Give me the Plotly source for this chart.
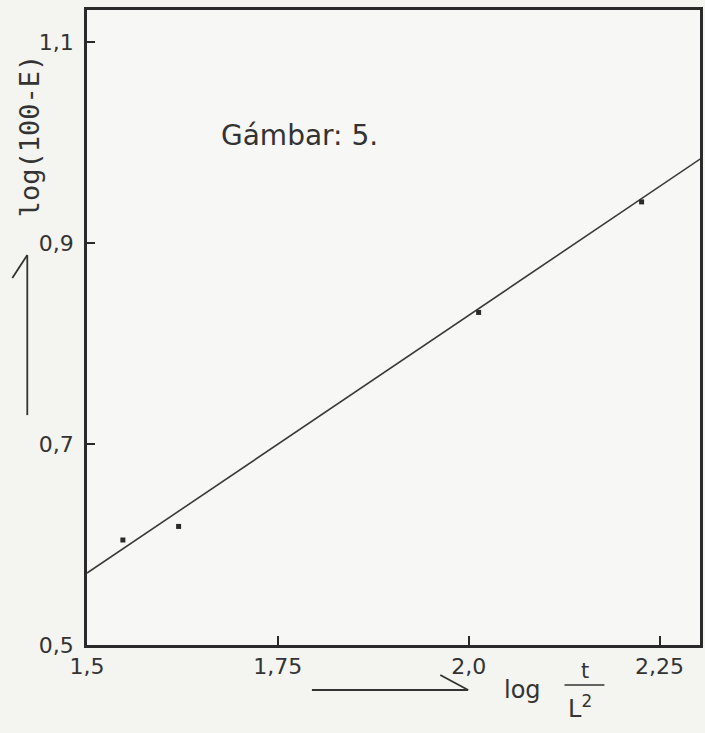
import plotly.graph_objects as go

# Data
pts_x = [1.547, 1.620, 2.013, 2.2265]
pts_y = [0.6045, 0.618, 0.831, 0.941]
fit_x = [1.5, 2.305]
fit_y = [0.5716, 0.9846]
x_ticks = [1.5, 1.75, 2.0, 2.25]
x_tick_labels = ["1,5", "1,75", "2,0", "2,25"]
y_ticks = [0.5, 0.7, 0.9, 1.1]
y_tick_labels = ["0,5", "0,7", "0,9", "1,1"]

ink = "#2a2a2a"
txt = "#333333"
font = dict(family="DejaVu Sans", size=22, color=txt)

fig = go.Figure()
fig.add_trace(go.Scatter(x=fit_x, y=fit_y, mode="lines",
                         line=dict(color="#3a3a3a", width=1.6),
                         hoverinfo="skip", showlegend=False))
fig.add_trace(go.Scatter(x=pts_x, y=pts_y, mode="markers",
                         marker=dict(color=ink, size=5, symbol="square"),
                         showlegend=False))

fig.update_layout(
    width=705, height=733,
    margin=dict(l=87, r=2, t=10, b=88),
    paper_bgcolor="#f4f4f1", plot_bgcolor="#f7f7f5",
    font=font,
    showlegend=False,
    xaxis=dict(range=[1.5, 2.303], tickvals=x_ticks, ticktext=x_tick_labels,
               showgrid=False, zeroline=False, showline=True, mirror=True,
               linecolor=ink, linewidth=2.5, ticks="inside", ticklen=9,
               tickwidth=2, tickcolor=ink, tickfont=font),
    yaxis=dict(range=[0.5, 1.132], tickvals=y_ticks, ticktext=y_tick_labels,
               showgrid=False, zeroline=False, showline=True, mirror=True,
               linecolor=ink, linewidth=2.5, ticks="inside", ticklen=8,
               tickwidth=2, tickcolor=ink, tickfont=font,
               ticklabelstandoff=6),
)

def note(x, y, text, size, family="DejaVu Sans", angle=0):
    fig.add_annotation(xref="paper", yref="paper", x=x, y=y, text=text,
                       textangle=angle, showarrow=False,
                       xanchor="center", yanchor="middle",
                       font=dict(family=family, size=size, color=txt))

note(-0.0925, 0.8016, "log(100-E)", 27, family="DejaVu Sans Mono", angle=-90)
note(0.347, 0.803, "Gámbar: 5.", 28)
note(0.711, -0.0709, "log", 24)
note(0.812, -0.041, "t", 21)
note(0.805, -0.0976, "L<sup>2</sup>", 24)

arrow_line = dict(color="#333", width=1.8)
# y arrow
fig.add_shape(type="line", xref="paper", yref="paper",
              x0=-0.0974, y0=0.362, x1=-0.0974, y1=0.614, line=arrow_line)
fig.add_shape(type="line", xref="paper", yref="paper",
              x0=-0.0974, y0=0.614, x1=-0.1218, y1=0.578, line=arrow_line)
# x arrow
fig.add_shape(type="line", xref="paper", yref="paper",
              x0=0.3669, y0=-0.0709, x1=0.6218, y1=-0.0709, line=arrow_line)
fig.add_shape(type="line", xref="paper", yref="paper",
              x0=0.6218, y0=-0.0709, x1=0.5763, y1=-0.0472, line=arrow_line)
# fraction bar
fig.add_shape(type="line", xref="paper", yref="paper",
              x0=0.779, y0=-0.063, x1=0.844, y1=-0.063,
              line=dict(color="#333", width=1.5))

fig.write_html("out.html",
               config={"displayModeBar": False},
               post_script="document.body.style.margin='0';"
                           "document.body.style.overflow='hidden';")
